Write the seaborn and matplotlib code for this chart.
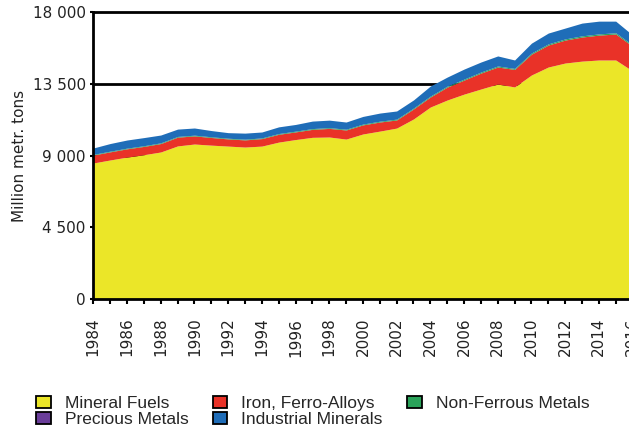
import numpy as np
import matplotlib
matplotlib.use("Agg")
import matplotlib.pyplot as plt
import seaborn as sns

# Data (million metric tons)
years = list(range(1984, 2017))
mineral_fuels = [8530, 8720, 8900, 9050, 9220, 9600, 9720, 9650, 9590, 9530,
                 9590, 9840, 10000, 10140, 10160, 10030, 10350, 10530, 10720, 11290,
                 12040, 12480, 12850, 13170, 13480, 13300, 14050, 14550, 14800, 14920,
                 14990, 14990, 14300]
iron_ferro = [500, 510, 520, 520, 530, 550, 510, 480, 450, 450,
              470, 490, 480, 500, 540, 570, 570, 570, 510, 630,
              630, 810, 880, 1000, 1070, 1100, 1310, 1380, 1440, 1510,
              1560, 1630, 1550]
non_ferrous = [40, 40, 41, 42, 43, 44, 44, 43, 42, 42,
               43, 45, 46, 47, 47, 48, 50, 50, 51, 53,
               56, 58, 60, 62, 63, 60, 66, 69, 71, 73,
               75, 76, 75]
precious = [1, 1, 1, 1, 1, 1, 1, 1, 1, 1,
            1, 1, 1, 1, 1, 1, 1, 1, 1, 1,
            1, 1, 1, 1, 1, 1, 1, 1, 1, 1,
            1, 1, 1]
industrial = [400, 480, 510, 510, 490, 460, 450, 390, 350, 380,
              370, 420, 420, 470, 470, 450, 480, 510, 510, 510,
              630, 570, 630, 630, 630, 530, 620, 680, 680, 800,
              800, 730, 630]

labels = ["Mineral Fuels", "Iron, Ferro-Alloys", "Non-Ferrous Metals",
          "Precious Metals", "Industrial Minerals"]
colors = ["#ebe628", "#e93228", "#2aa35a", "#6a3d9a", "#1f6db8"]
y_ticks = [0, 4500, 9000, 13500, 18000]

sns.set_theme(style="white")
plt.rcParams["font.family"] = ["DejaVu Sans"]

fig = plt.figure(figsize=(6.29, 4.33), dpi=100)
ax = fig.add_axes([93.3 / 629, 134 / 433, 556.1 / 629, 287 / 433])

ax.stackplot(years, mineral_fuels, iron_ferro, non_ferrous, precious, industrial,
             colors=colors, labels=labels, linewidth=0, zorder=3)

ax.set_xlim(1984, 2017)
ax.set_ylim(0, 18000)

# horizontal grid lines (black), drawn below the areas
for v in y_ticks[1:]:
    ax.axhline(v, color="black", linewidth=2, zorder=1, clip_on=False)

ax.set_yticks(y_ticks)
ax.set_yticklabels([f"{v:,}".replace(",", " ") for v in y_ticks], fontsize=11, color="#222222")
ax.set_xticks(range(1984, 2018))
ax.set_xticklabels([str(y) if y % 2 == 0 else "" for y in range(1984, 2018)],
                   rotation=90, fontsize=11, color="#222222")
ax.tick_params(axis="y", direction="out", length=2.5, width=1.5, color="black", pad=3, left=True)
ax.tick_params(axis="x", direction="out", length=3.5, width=1.5, color="black", pad=10, bottom=True)

for side in ["top", "right"]:
    ax.spines[side].set_visible(False)
for side in ["left", "bottom"]:
    ax.spines[side].set_color("black")
    ax.spines[side].set_linewidth(2)
    ax.spines[side].set_zorder(5)

ax.set_ylabel("Million metr. tons", fontsize=11, color="#222222", labelpad=4)

# legend: column-major order to get the two-row layout of the original
order = [0, 3, 1, 4, 2]
handles = [plt.Rectangle((0, 0), 1, 1, facecolor=colors[i], edgecolor="black", linewidth=1.3)
           for i in order]
fig.legend(handles, [labels[i] for i in order], ncol=3, loc="upper left",
           bbox_to_anchor=(36 / 629, 1 - 396 / 433), frameon=False,
           prop={"family": "Liberation Sans", "size": 12.5},
           handlelength=0.85, handleheight=0.65, handletextpad=0.8,
           columnspacing=1.4, labelspacing=0.08, borderpad=0, borderaxespad=0)

fig.savefig("out.png", dpi=100)
